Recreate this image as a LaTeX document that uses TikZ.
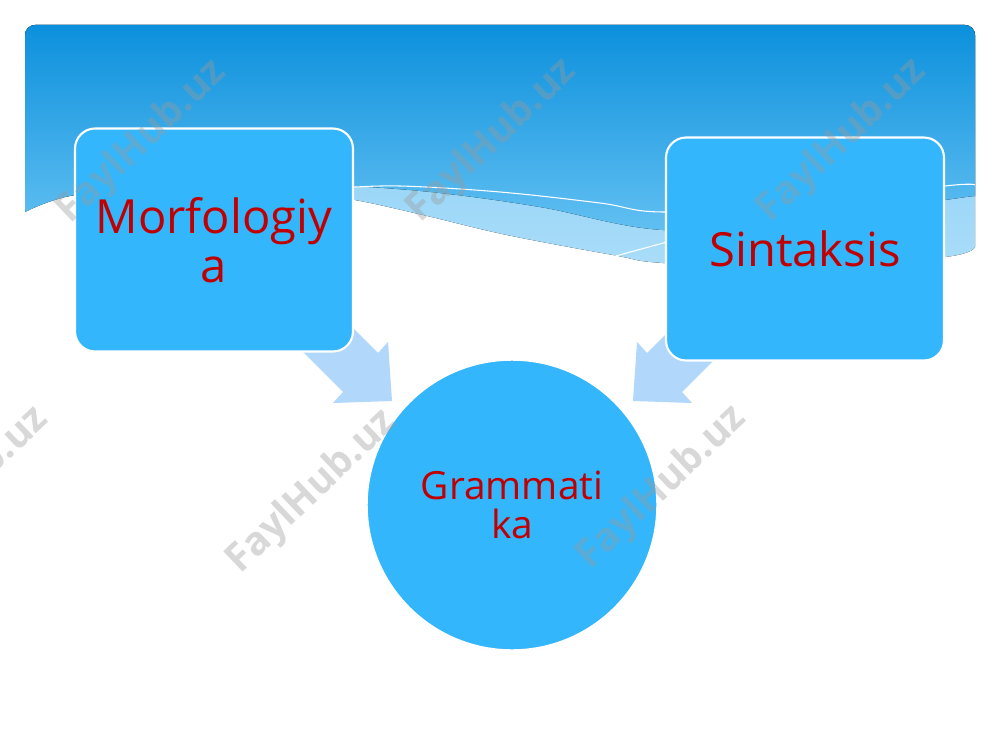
\documentclass[tikz,border=0pt]{standalone}
\usepackage{fontspec}
\setmainfont{Open Sans}
\definecolor{hdrtop}{HTML}{0A8FDC}
\definecolor{hdrbot}{HTML}{62C0F2}
\definecolor{bandtop}{HTML}{7ECAF4}
\definecolor{bandbot}{HTML}{AADDF9}
\definecolor{boxblue}{HTML}{33B6FC}
\definecolor{arrowblue}{HTML}{B1D7FA}
\definecolor{textred}{HTML}{C00000}
\definecolor{wmgray}{HTML}{9A9A9A}
\tikzset{
  boxnode/.style={rectangle, rounded corners=0.4cm, minimum width=5.56cm, minimum height=4.46cm,
    draw=white, line width=1.2pt, fill=boxblue, text=textred, align=center, inner sep=0pt,
    font=\fontsize{26.8}{27.8}\selectfont},
  circnode/.style={circle, minimum size=5.8cm, fill=boxblue, draw=white, line width=0.8pt,
    text=textred, align=center, inner sep=0pt, font=\fontsize{22.1}{22.2}\selectfont},
  blockarrow/.style={fill=arrowblue},
  wavelineA/.style={draw=white, line width=0.6pt},
  wm/.style={text=wmgray, opacity=0.38, rotate=43.5, inner sep=0pt,
    font=\bfseries\fontsize{22.4}{22.4}\selectfont}
}
\begin{document}
\begin{tikzpicture}[x=0.02cm,y=-0.02cm]
\useasboundingbox (0,0) rectangle (1000,750);
\fill[white] (0,0) rectangle (1000,750);
% header band
\begin{scope}
  \clip[rounded corners=0.2cm] (25,25) rectangle (975,400);
  \fill[top color=bandtop, bottom color=bandbot]
    (975,20) -- (25,20) -- plot[smooth, tension=0.6] coordinates
    {(25,211) (75,195) (200,188) (300,193) (355,200) (423,215) (507,235) (613,255) (663,263) (800,268) (945,257) (975,247)}
    -- cycle;
  \fill[top color=hdrtop, bottom color=hdrbot]
    (975,20) -- (25,20) -- plot[smooth, tension=0.6] coordinates
    {(25,212) (75,195) (180,186) (290,184) (353,186) (440,193) (540,207) (663,230) (800,222) (945,200) (975,196)}
    -- cycle;
  \draw[wavelineA] plot[smooth, tension=0.6] coordinates
    {(340,188) (400,186) (500,192) (600,203) (663,212) (800,205) (945,186) (975,185)};
  \draw[wavelineA] (612,257) -- (700,233);
\end{scope}
% arrows
\fill[blockarrow] (308,283) -- (378,353) -- (388,342) -- (392,401) -- (333,403) -- (343,392) -- (273,322) -- cycle;
\fill[blockarrow] (717,283) -- (647,353) -- (637,342) -- (633,401) -- (692,403) -- (682,392) -- (752,322) -- cycle;
% nodes
\node[boxnode] (m) at (214,240) {Morfologiy\\a};
\node[boxnode] (s) at (805,249) {Sintaksis};
\node[circnode] (g) at (512,505) {Grammati\\ka};
% watermarks
\node[wm] (w1) at (142,142) {FaylHub.uz};
\node[wm] (w2) at (492,141) {FaylHub.uz};
\node[wm] (w3) at (842,141) {FaylHub.uz};
\node[wm] (w4) at (-36,489) {FaylHub.uz};
\node[wm] (w5) at (312,492) {FaylHub.uz};
\node[wm] (w6) at (662,488) {FaylHub.uz};
\end{tikzpicture}
\end{document}
